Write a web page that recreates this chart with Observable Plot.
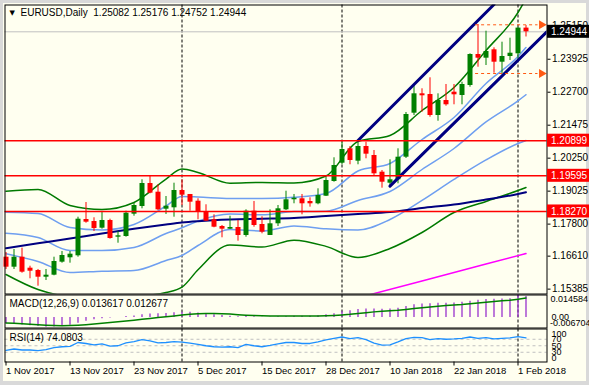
<!DOCTYPE html>
<html><head><meta charset="utf-8">
<script src="https://cdn.jsdelivr.net/npm/d3@7"></script>
<script src="https://cdn.jsdelivr.net/npm/@observablehq/plot@0.6"></script>
<style>
html,body{margin:0;padding:0;background:#d9d9d9;}
#wrap{position:relative;width:589px;height:385px;overflow:hidden;background:#d9d9d9;}
#cream{position:absolute;left:3px;top:3px;width:583px;height:378px;background:#fffff0;}
.panel{position:absolute;left:0;}
.panel svg{display:block;overflow:visible;}
</style></head><body>
<div id="wrap"><div id="cream"></div>
<div id="main" class="panel" style="top:0px"></div>
<div id="macd" class="panel" style="top:294px"></div>
<div id="rsi" class="panel" style="top:328px"></div>
</div>
<script>
// ---------- data ----------
const opens = [1.16571,1.16200,1.16571,1.16163,1.16077,1.15828,1.15903,1.16386,1.16549,1.16623,
1.17972,1.17898,1.17649,1.17935,1.17314,1.17340,1.18169,1.18455,1.19309,1.18986,
1.18354,1.18406,1.19049,1.18901,1.18652,1.18243,1.17961,1.17712,1.17612,1.17675,
1.17378,1.18280,1.17786,1.17378,1.17812,1.18332,1.18704,1.18741,1.18641,1.18555,
1.18837,1.19383,1.20063,1.20598,1.20138,1.20684,1.20349,1.19729,1.19320,1.19447,
1.20286,1.21921,1.22641,1.22615,1.21835,1.22392,1.22701,1.22578,1.22950,1.24101,
1.23964,1.24276,1.23815,1.24027,1.24127,1.25082];
const highs = [1.16746,1.16857,1.16906,1.16237,1.16115,1.16115,1.16571,1.16783,1.16783,1.18057,
1.18603,1.18035,1.18269,1.17983,1.17526,1.18280,1.18603,1.19447,1.19595,1.19261,
1.18826,1.19320,1.19447,1.18901,1.18741,1.18518,1.18146,1.17749,1.18094,1.17935,
1.18332,1.18641,1.18072,1.18332,1.18492,1.19023,1.18901,1.18901,1.18778,1.19112,
1.19543,1.20264,1.20843,1.20684,1.20906,1.20843,1.20535,1.19792,1.20190,1.20598,
1.21947,1.22987,1.22827,1.23236,1.22641,1.22987,1.22987,1.23072,1.24127,1.25215,
1.24967,1.24350,1.24558,1.24707,1.25100,1.25176];
const lows = [1.16115,1.16115,1.15977,1.15769,1.15494,1.15706,1.15880,1.16349,1.16349,1.16571,
1.17834,1.17526,1.17612,1.17240,1.17091,1.17314,1.18094,1.18369,1.18927,1.18306,
1.18158,1.18057,1.18492,1.18280,1.17961,1.17898,1.17664,1.17292,1.17600,1.17166,
1.17314,1.17686,1.17441,1.17378,1.17712,1.18306,1.18555,1.18146,1.18429,1.18518,
1.18826,1.19357,1.20004,1.20004,1.20004,1.20227,1.19606,1.19135,1.19209,1.19298,
1.20238,1.21835,1.21958,1.21772,1.21623,1.22181,1.22233,1.22233,1.22886,1.23629,
1.23692,1.23406,1.23384,1.23878,1.23904,1.24752];
const closes = [1.16200,1.16571,1.16014,1.16051,1.15828,1.15903,1.16412,1.16635,1.16683,1.17983,
1.17872,1.17638,1.17935,1.17266,1.17366,1.18206,1.18492,1.19309,1.18949,1.18332,
1.18466,1.19049,1.18875,1.18615,1.18243,1.17909,1.17686,1.17612,1.17675,1.17378,
1.18280,1.17749,1.17500,1.17812,1.18369,1.18704,1.18763,1.18555,1.18555,1.18863,
1.19421,1.19978,1.20572,1.20164,1.20684,1.20398,1.19669,1.19357,1.19447,1.20286,
1.21872,1.22641,1.22567,1.21835,1.22392,1.22233,1.22604,1.22987,1.24101,1.23964,
1.24213,1.23815,1.24027,1.24149,1.25082,1.24944];

const dateLabels = ["1 Nov 2017","13 Nov 2017","23 Nov 2017","5 Dec 2017","15 Dec 2017","28 Dec 2017","10 Jan 2018","22 Jan 2018","1 Feb 2018"];
const dateLabelBars = [0,8,16,24,32,40,48,56,64];
const separatorBars = [22,42,64];

const bandBars = [0,4,8,12,16,20,22,24,28,32,36,40,44,48,52,56,60,64,65];
const bbUpper2 = [1.19023,1.19086,1.18492,1.18343,1.18603,1.19476,1.19848,1.19718,1.19320,1.19346,1.19328,1.19588,1.20869,1.21092,1.22021,1.22875,1.24250,1.25661,1.26181];
const bbUpper1 = [1.18243,1.18195,1.17675,1.17582,1.17786,1.18473,1.18826,1.18808,1.18752,1.18752,1.18797,1.18938,1.19773,1.20052,1.20944,1.21761,1.23024,1.24027,1.24361];
const bbMiddle = [1.17463,1.17303,1.16820,1.16820,1.16932,1.17452,1.17664,1.17912,1.18172,1.18146,1.18265,1.18280,1.18678,1.19012,1.19829,1.20609,1.21597,1.22381,1.22608];
const bbLower1 = [1.16698,1.16412,1.16003,1.16051,1.16077,1.16449,1.16635,1.17006,1.17600,1.17545,1.17734,1.17626,1.17582,1.17972,1.18678,1.19458,1.20186,1.20795,1.20906];
const bbLower2 = [1.15929,1.15372,1.15112,1.15074,1.15112,1.15260,1.15457,1.16107,1.17025,1.16947,1.17203,1.16973,1.16560,1.16895,1.17489,1.18232,1.18641,1.19049,1.19161];
const maNavy   = [1.16906,1.17088,1.17266,1.17452,1.17626,1.17786,1.17860,1.17909,1.17972,1.17998,1.18028,1.18102,1.18176,1.18250,1.18399,1.18529,1.18715,1.18919,1.18986];
const magentaBars = [44,52,60,65];
const maMagenta   = [1.15063,1.15687,1.16315,1.16705];

const channelUpperBars = [44,61], channelUpper = [1.20906,1.25958];
const channelLowerBars = [48,67.6], channelLower = [1.19209,1.24943];

const priceTicks = [1.25150,1.23925,1.22700,1.21475,1.20250,1.19025,1.17800,1.16610,1.15385];
const redLevels = [1.20899,1.19595,1.18270];
const bidPrice = 1.24944;
const rangeLevels = [1.25204,1.23395];
const rangeFromBar = 58.7, rangeToBar = 66.5, rangeArrowBar = 66.95;
const headerText = "EURUSD,Daily\u00a0\u00a01.25082 1.25176 1.24752 1.24944";

const macdHist = [-0.0038,-0.0045,-0.0047,-0.0052,-0.0058,-0.0062,-0.0060,-0.0055,-0.0049,-0.0036,
-0.0024,-0.0014,-0.0007,-0.0003,0.0001,0.0007,0.0011,0.0018,0.0023,0.0025,
0.0027,0.0031,0.0034,0.0034,0.0029,0.0023,0.0018,0.0013,0.0009,0.0005,
0.0007,0.0005,0.0002,0.0002,0.0005,0.0006,0.0008,0.0008,0.0009,0.0012,
0.0018,0.0025,0.0038,0.0045,0.0052,0.0056,0.0056,0.0054,0.0056,0.0061,
0.0072,0.0083,0.0088,0.0090,0.0092,0.0092,0.0095,0.0099,0.0106,0.0112,
0.0117,0.0119,0.0120,0.0122,0.014584,0.013617];
const macdSignal = [-0.0034,-0.0036,-0.0039,-0.0043,-0.0046,-0.0049,-0.0051,-0.0052,-0.0051,-0.0049,
-0.0046,-0.0042,-0.0037,-0.0032,-0.0027,-0.0022,-0.0017,-0.0011,-0.0005,0.0000,
0.0005,0.0011,0.0017,0.0022,0.0025,0.0026,0.0026,0.0025,0.0023,0.0019,
0.0016,0.0014,0.0012,0.0011,0.0010,0.0010,0.0010,0.0010,0.0010,0.0011,
0.0012,0.0014,0.0017,0.0021,0.0027,0.0032,0.0037,0.0041,0.0044,0.0047,
0.0052,0.0058,0.0064,0.0069,0.0074,0.0078,0.0082,0.0085,0.0090,0.0094,
0.0099,0.0104,0.0108,0.0112,0.0119,0.012677];
const macdMax = 0.014584, macdMin = -0.006704;
const macdLabel = "MACD(12,26,9) 0.013617 0.012677";

const rsiValues = [36,40,37,37,35,38,44,47,48,60,57,53,56,49,50,59,63,69,65,59,
60,63,61,58,54,50,47,46,47,44,54,50,47,51,56,60,60,57,57,62,
68,73,77,72,75,69,58,52,53,62,72,76,75,69,72,70,71,73,77,73,
75,71,73,74,78,74.08];
const rsiLevels = [70,50,30];
const rsiLabel = "RSI(14) 74.0803";

// ---------- style ----------
const FONT = '"Liberation Sans", Arial, sans-serif';
const BULL = "#008000", BEAR = "#ff0000", BAND2 = "#007a00", BAND1 = "#6f9ff0",
      NAVY = "#000080", MAGENTA = "#ff00ff", RED = "#ff0000", ORANGE = "#ff5a14",
      PURPLE = "#9932cc", SIGNAL = "#008000", RSI_BLUE = "#1e90ff";
const W = 589, ML = 4.5, MR = 42.5;
const X_DOMAIN = [-0.125, 67.625];
const baseStyle = {background: "transparent", fontFamily: FONT, fontSize: "10px", color: "#000"};

const candles = opens.map((o, i) => ({i, open: o, high: highs[i], low: lows[i], close: closes[i],
  color: closes[i] >= o ? BULL : BEAR}));
const bandRows = bandBars.map((b, k) => ({i: b, up2: bbUpper2[k], up1: bbUpper1[k], mid: bbMiddle[k],
  lo1: bbLower1[k], lo2: bbLower2[k], navy: maNavy[k]}));
const magentaRows = magentaBars.map((b, k) => ({i: b, p: maMagenta[k]}));
const channelRows = [
  ...channelUpperBars.map((b, k) => ({name: "up", i: b, p: channelUpper[k]})),
  ...channelLowerBars.map((b, k) => ({name: "lo", i: b, p: channelLower[k]}))
];
const rangeRows = rangeLevels.map(p => ({p}));
const macdRows = macdHist.map((h, i) => ({i, hist: h, signal: macdSignal[i]}));
const rsiRows = rsiValues.map((v, i) => ({i, rsi: v}));
const fmt5 = d3.format(".5f");
const curve = "monotone-x";

// ---------- main price panel ----------
const main = Plot.plot({
  width: W, height: 294, marginLeft: ML, marginRight: MR, marginTop: 4.5, marginBottom: 0.5,
  x: {domain: X_DOMAIN, axis: null},
  y: {domain: [1.15204, 1.25940], label: null},
  style: baseStyle,
  marks: [
    Plot.ruleX(separatorBars, {x: d => d, stroke: "#000", strokeDasharray: "3,2"}),
    Plot.ruleY([bidPrice], {y: d => d, stroke: "#c0c0c0"}),
    Plot.line(bandRows, {x: "i", y: "up2", stroke: BAND2, curve, clip: true}),
    Plot.line(bandRows, {x: "i", y: "lo2", stroke: BAND2, curve, clip: true}),
    Plot.line(bandRows, {x: "i", y: "up1", stroke: BAND1, curve, clip: true}),
    Plot.line(bandRows, {x: "i", y: "mid", stroke: BAND1, curve, clip: true}),
    Plot.line(bandRows, {x: "i", y: "lo1", stroke: BAND1, curve, clip: true}),
    Plot.line(bandRows, {x: "i", y: "navy", stroke: NAVY, strokeWidth: 2, curve, clip: true}),
    Plot.line(magentaRows, {x: "i", y: "p", stroke: MAGENTA, clip: true}),
    Plot.ruleX(candles, {x: "i", y1: "low", y2: "high", stroke: "color"}),
    Plot.ruleX(candles, {x: "i", y1: "open", y2: "close", stroke: "color", strokeWidth: 5}),
    Plot.line(channelRows, {x: "i", y: "p", z: "name", stroke: NAVY, strokeWidth: 3, clip: true}),
    Plot.ruleY(redLevels, {y: d => d, stroke: RED, strokeWidth: 1.5}),
    Plot.ruleY(rangeRows, {y: "p", x1: rangeFromBar, x2: rangeToBar, stroke: ORANGE, strokeDasharray: "3,3"}),
    Plot.dot(rangeRows, {x: rangeArrowBar, y: "p", symbol: "triangle", rotate: 90, r: 3.3, fill: ORANGE, stroke: "none"}),
    Plot.frame({stroke: "#000"}),
    Plot.axisY(priceTicks, {anchor: "right", tickSize: 3, tickPadding: 2, tickFormat: fmt5, fontSize: 10, label: null}),
    Plot.text([headerText], {text: d => d, frameAnchor: "top-left", dx: 15.5, dy: 4, lineAnchor: "top", textAnchor: "start", fontSize: 10, fill: "#000"}),
    Plot.text(["\u25BC"], {text: d => d, frameAnchor: "top-left", dx: 4.5, dy: 5.5, lineAnchor: "top", textAnchor: "start", fontSize: 7, fill: "#000", fontFamily: "DejaVu Sans"})
  ]
});
// current-price and level labels on the price scale
{
  const ys = main.scale("y"), xs = main.scale("x");
  const x0 = xs.apply(X_DOMAIN[1]) + 0.5;
  const svg = d3.select(main);
  const boxes = [{v: bidPrice, bg: "#000"}, ...redLevels.map(v => ({v, bg: RED}))];
  for (const {v, bg} of boxes) {
    const yy = ys.apply(v);
    svg.append("rect").attr("x", x0).attr("y", yy - 6.5).attr("width", W - x0).attr("height", 13).attr("fill", bg);
    svg.append("text").attr("x", x0 + 4).attr("y", yy).attr("dy", "0.36em").attr("fill", "#fff")
      .attr("font-family", FONT).attr("font-size", 10).attr("text-anchor", "start").text(fmt5(v));
  }
}
document.getElementById("main").appendChild(main);

// ---------- MACD panel ----------
const macd = Plot.plot({
  width: W, height: 34, marginLeft: ML, marginRight: MR, marginTop: 0.5, marginBottom: 0.5,
  x: {domain: X_DOMAIN, axis: null},
  y: {domain: [macdMin, macdMax], axis: null},
  style: baseStyle,
  marks: [
    Plot.ruleX(separatorBars, {x: d => d, stroke: "#000", strokeDasharray: "3,2"}),
    Plot.ruleX(macdRows, {x: "i", y1: 0, y2: "hist", stroke: PURPLE, strokeWidth: 1.3}),
    Plot.line(macdRows, {x: "i", y: "signal", stroke: SIGNAL, strokeWidth: 1.5}),
    Plot.frame({stroke: "#000"}),
    Plot.text([macdLabel], {text: d => d, frameAnchor: "top-left", dx: 4.5, dy: 5, lineAnchor: "top", textAnchor: "start", fontSize: 10, fill: "#000"}),
    Plot.text([macdMax], {y: d => d, text: d => d.toFixed(6), frameAnchor: "right", dx: 3.5, dy: 4, textAnchor: "start", fontSize: 9, fill: "#000"}),
    Plot.text([0], {y: d => d, text: () => "0.00", frameAnchor: "right", dx: 4.5, dy: 0, textAnchor: "start", fontSize: 9, fill: "#000"}),
    Plot.text([macdMin], {y: d => d, text: d => d.toFixed(6), frameAnchor: "right", dx: 3, dy: -4.5, textAnchor: "start", fontSize: 9, fill: "#000"})
  ]
});
document.getElementById("macd").appendChild(macd);

// ---------- RSI panel + date axis ----------
const labelByBar = new Map(dateLabelBars.map((b, k) => [b, dateLabels[k]]));
const rsi = Plot.plot({
  width: W, height: 57, marginLeft: ML, marginRight: MR, marginTop: 0.5, marginBottom: 23.5,
  x: {domain: X_DOMAIN, label: null},
  y: {domain: [0, 101.6], axis: null},
  style: baseStyle,
  marks: [
    Plot.ruleY(rsiLevels, {y: d => d, stroke: "#c0c0c0", strokeDasharray: "3,3"}),
    Plot.ruleX(separatorBars, {x: d => d, stroke: "#000", strokeDasharray: "3,2"}),
    Plot.line(rsiRows, {x: "i", y: "rsi", stroke: RSI_BLUE, strokeWidth: 1.3}),
    Plot.frame({stroke: "#000"}),
    Plot.text([rsiLabel], {text: d => d, frameAnchor: "top-left", dx: 4.5, dy: 5, lineAnchor: "top", textAnchor: "start", fontSize: 10, fill: "#000"}),
    Plot.text([100], {y: d => d, text: d => String(d), frameAnchor: "right", dx: 4.5, dy: 5, textAnchor: "start", fontSize: 9, fill: "#000"}),
    Plot.text(rsiLevels, {y: d => d, text: d => String(d), frameAnchor: "right", dx: 4.5, textAnchor: "start", fontSize: 9, fill: "#000"}),
    Plot.text([0], {y: d => d, text: d => String(d), frameAnchor: "right", dx: 4.5, dy: -4, textAnchor: "start", fontSize: 9, fill: "#000"}),
    Plot.axisX(dateLabelBars, {anchor: "bottom", tickSize: 4, tickPadding: 1, tickFormat: d => labelByBar.get(d),
      textAnchor: "start", dx: 0, fontSize: 9.5, label: null})
  ]
});
document.getElementById("rsi").appendChild(rsi);
</script>
</body></html>
